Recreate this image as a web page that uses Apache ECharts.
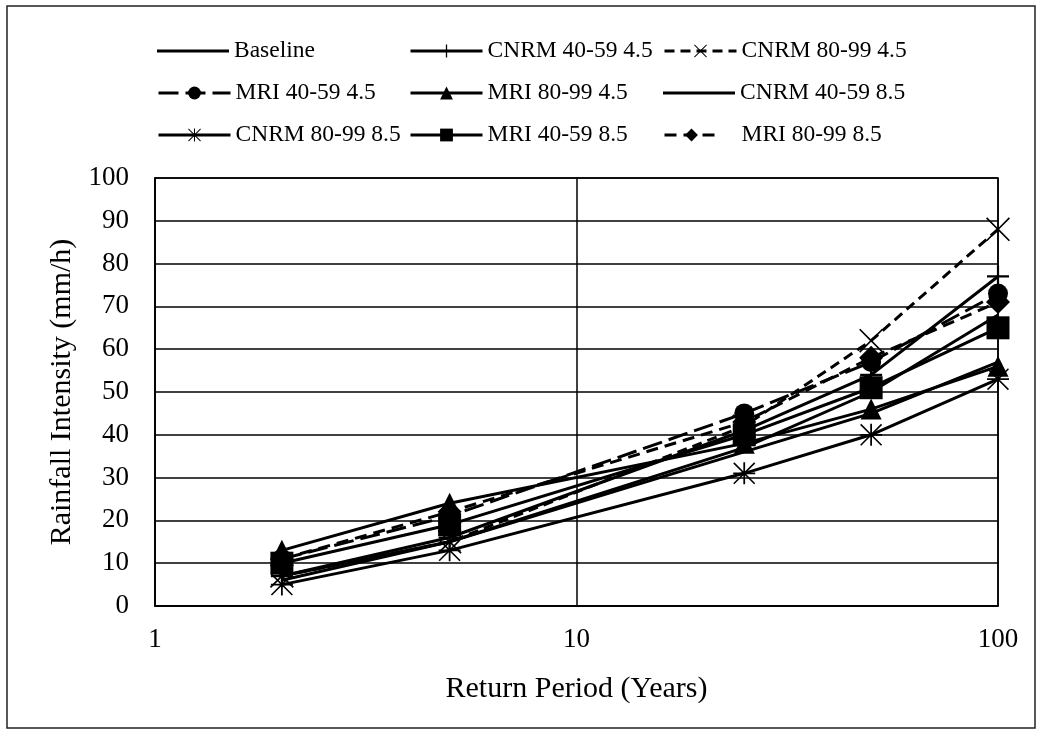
<!DOCTYPE html>
<html>
<head>
<meta charset="utf-8">
<script src="https://cdn.jsdelivr.net/npm/echarts@6/dist/echarts.min.js"></script>
<style>
  html, body { margin: 0; padding: 0; background: #fff; }
  #chart { width: 1040px; height: 732px; }
</style>
</head>
<body>
<div id="chart"></div>
<script>
// Return periods (years) on a log axis
const returnPeriods = [2, 5, 25, 50, 100];
const yTicks = [0, 10, 20, 30, 40, 50, 60, 70, 80, 90, 100];

// Rainfall intensity (mm/h) per scenario
const baseline        = [7, 15, 36, 45, 57];
const cnrm4059_45     = [7, 16, 41, 54, 77];
const cnrm8099_45     = [7, 15, 42, 62, 88];
const mri4059_45      = [11, 21, 45, 57, 73];
const mri8099_45      = [13, 24, 38, 46, 56];
const cnrm4059_85     = [6, 15, 37, 50, 68];
const cnrm8099_85     = [5, 13, 31, 40, 53];
const mri4059_85      = [10, 19, 40, 51, 65];
const mri8099_85      = [11, 22, 43, 58, 71];

const seriesNames = [
  'Baseline', 'CNRM 40-59 4.5', 'CNRM 80-99 4.5',
  'MRI 40-59 4.5', 'MRI 80-99 4.5', 'CNRM 40-59 8.5',
  'CNRM 80-99 8.5', 'MRI 40-59 8.5', 'MRI 80-99 8.5'
];
const seriesValues = [
  baseline, cnrm4059_45, cnrm8099_45,
  mri4059_45, mri8099_45, cnrm4059_85,
  cnrm8099_85, mri4059_85, mri8099_85
];

// Marker glyphs
const PLUS = 'path://M9,0H11V9H20V11H11V20H9V11H0V9H9Z';
const CROSS = 'path://M1,0L10,9L19,0L20,1L11,10L20,19L19,20L10,11L1,20L0,19L9,10L0,1Z';
const STAR = 'path://M9.2,0H10.8V20H9.2Z M0,9.2H20V10.8H0Z M1,0L20,19L19,20L0,1Z M19,0L20,1L1,20L0,19Z';
// Plain line used as the legend key of the unmarked series
const PLAIN_LINE = 'path://M0,0L0.01,0M0,6.5H72V9.5H0ZM0,16L0.01,16';

const styles = [
  { symbol: 'none', size: 0, type: 'solid' },
  { symbol: PLUS, size: 22, type: 'solid' },
  { symbol: CROSS, size: 24, type: [10, 6] },
  { symbol: 'circle', size: 20, type: [20, 7] },
  { symbol: 'triangle', size: 21, type: 'solid' },
  { symbol: 'none', size: 0, type: 'solid' },
  { symbol: STAR, size: 22, type: 'solid' },
  { symbol: 'rect', size: 23, type: 'solid' },
  { symbol: 'diamond', size: 24, type: [12, 7] }
];

const FONT = 'Liberation Serif';

const series = seriesNames.map((name, i) => ({
  name,
  type: 'line',
  data: returnPeriods.map((p, j) => [p, seriesValues[i][j]]),
  symbol: styles[i].symbol,
  symbolSize: styles[i].size,
  showSymbol: styles[i].symbol !== 'none',
  lineStyle: { color: '#000', width: 3, type: styles[i].type },
  itemStyle: { color: '#000' },
  z: 3 + i
}));

// One legend per entry, arranged in three rows of three
const legendCols = [157, 409, 663];
const legendRows = [39, 81, 123];
const legends = seriesNames.map((name, i) => ({
  data: [styles[i].symbol === 'none' ? { name, icon: PLAIN_LINE } : { name }],
  left: legendCols[i % 3],
  top: legendRows[Math.floor(i / 3)],
  itemWidth: (i === 8 ? 54 : 72),
  itemHeight: 16,
  itemGap: 4,
  lineStyle: { width: 3, color: '#000' },
  textStyle: { fontFamily: FONT, fontSize: 23.5, color: '#000', padding: [0, 0, 0, (i === 8 ? 18 : 0)] },
  padding: 0
}));

const chart = echarts.init(document.getElementById('chart'));
chart.setOption({
  backgroundColor: '#fff',
  animation: false,
  legend: legends,
  grid: { left: 155, right: 42, top: 178, bottom: 126, show: true, borderColor: '#000', borderWidth: 1.5 },
  xAxis: {
    type: 'log',
    logBase: 10,
    min: 1,
    max: 100,
    name: 'Return Period (Years)',
    nameLocation: 'middle',
    nameGap: 68,
    nameTextStyle: { fontFamily: FONT, fontSize: 30, color: '#000' },
    axisLine: { lineStyle: { color: '#000', width: 1.5 } },
    axisTick: { show: false },
    axisLabel: { fontFamily: FONT, fontSize: 27, color: '#000', margin: 20 },
    splitLine: { show: true, lineStyle: { color: '#000', width: 1.5 } },
    minorSplitLine: { show: false }
  },
  yAxis: {
    type: 'value',
    min: yTicks[0],
    max: yTicks[yTicks.length - 1],
    interval: 10,
    name: 'Rainfall Intensity (mm/h)',
    nameLocation: 'middle',
    nameGap: 78,
    nameTextStyle: { fontFamily: FONT, fontSize: 30, color: '#000' },
    axisLine: { show: true, lineStyle: { color: '#000', width: 1.5 } },
    axisTick: { show: false },
    axisLabel: { fontFamily: FONT, fontSize: 27, color: '#000', margin: 26 },
    splitLine: { show: true, lineStyle: { color: '#000', width: 1.5 } }
  },
  graphic: [{
    type: 'rect',
    shape: { x: 7, y: 6, width: 1028, height: 722 },
    style: { fill: 'none', stroke: '#222', lineWidth: 1.5 },
    silent: true
  }],
  series
});
</script>
</body>
</html>
